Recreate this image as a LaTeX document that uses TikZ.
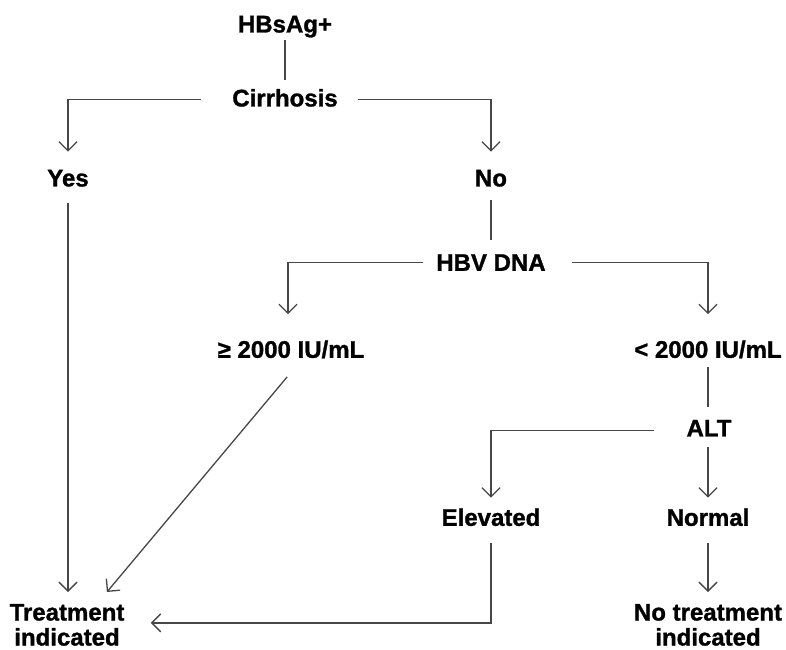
\documentclass[tikz,border=0pt]{standalone}
\usepackage{fontspec}
\setmainfont[FakeBold=1.2]{Liberation Sans}
\usetikzlibrary{arrows.meta}
\begin{document}
\begin{tikzpicture}[x=1pt,y=-1pt,
  lbl/.style={inner sep=0pt, text height=17.2pt, text depth=0pt, anchor=south,
    font=\fontsize{24}{25}\selectfont\bfseries},
  lbltwo/.style={inner sep=0pt, align=center, anchor=north,
    font=\fontsize{24}{25}\selectfont\bfseries},
  link/.style={draw=black!72, line width=1.3pt},
  arr/.style={link, -{Straight Barb[length=9pt,width=18pt,line width=1.3pt]}}]
\useasboundingbox[fill=white] (0,0) rectangle (786,649);

% decision nodes (positioned by baseline)
\node[lbl] (hbs)  at (285,32.6)  {HBsAg+};
\node[lbl] (cirr) at (285,106.6) {Cirrhosis};
\node[lbl] (yes)  at (68,186.6)  {Yes};
\node[lbl] (no)   at (491,186.6) {No};
\node[lbl] (hbv)  at (491,271)   {HBV DNA};
\node[lbl] (ge)   at (291,358)   {≥ 2000 IU/mL};
\node[lbl] (lt)   at (708,358)   {< 2000 IU/mL};
\node[lbl] (alt)  at (709,436.6) {ALT};
\node[lbl] (elev) at (491,526)   {Elevated};
\node[lbl] (norm) at (708,526)   {Normal};
\node[lbltwo] (treat) at (67,603.8)  {Treatment\\indicated};
\node[lbltwo] (notr)  at (708,603.8) {No treatment\\indicated};

% connectors
\draw[link, shorten <=7.4pt, shorten >=9.4pt] (hbs.south) -- (cirr.north);
\draw[arr, shorten <=31pt, shorten >=17.4pt] ([yshift=-2pt]cirr.west) -| (yes.north);
\draw[arr, shorten <=20pt, shorten >=17.4pt] ([yshift=-2pt]cirr.east) -| (no.north);
\draw[arr, shorten <=16.4pt, shorten >=11.8pt] (yes.south) -- (yes.south |- treat.north);
\draw[link, shorten <=13.4pt, shorten >=13.8pt] (no.south) -- (hbv.north);
\draw[arr, shorten <=12.7pt, shorten >=26.3pt] (hbv.west) -| ([xshift=-3pt]ge.north);
\draw[arr, shorten <=25.7pt, shorten >=26.3pt] (hbv.east) -| (lt.north);
\draw[arr, shorten <=24.8pt, shorten >=15.4pt] ([xshift=12pt]ge.south) -- ([xshift=30pt]treat.north);
\draw[link, shorten <=9pt, shorten >=12.4pt] (lt.south) -- (lt.south |- alt.north);
\draw[arr, shorten <=32pt, shorten >=10.8pt] ([yshift=-3pt]alt.west) -| (elev.north);
\draw[arr, shorten <=10.4pt, shorten >=10.8pt] (alt.south -| norm.north) -- (norm.north);
\draw[arr, shorten <=17pt, shorten >=26.3pt] (elev.south) |- ([yshift=2pt]treat.east);
\draw[arr, shorten <=17pt, shorten >=11.8pt] (norm.south) -- (notr.north);
\end{tikzpicture}
\end{document}
